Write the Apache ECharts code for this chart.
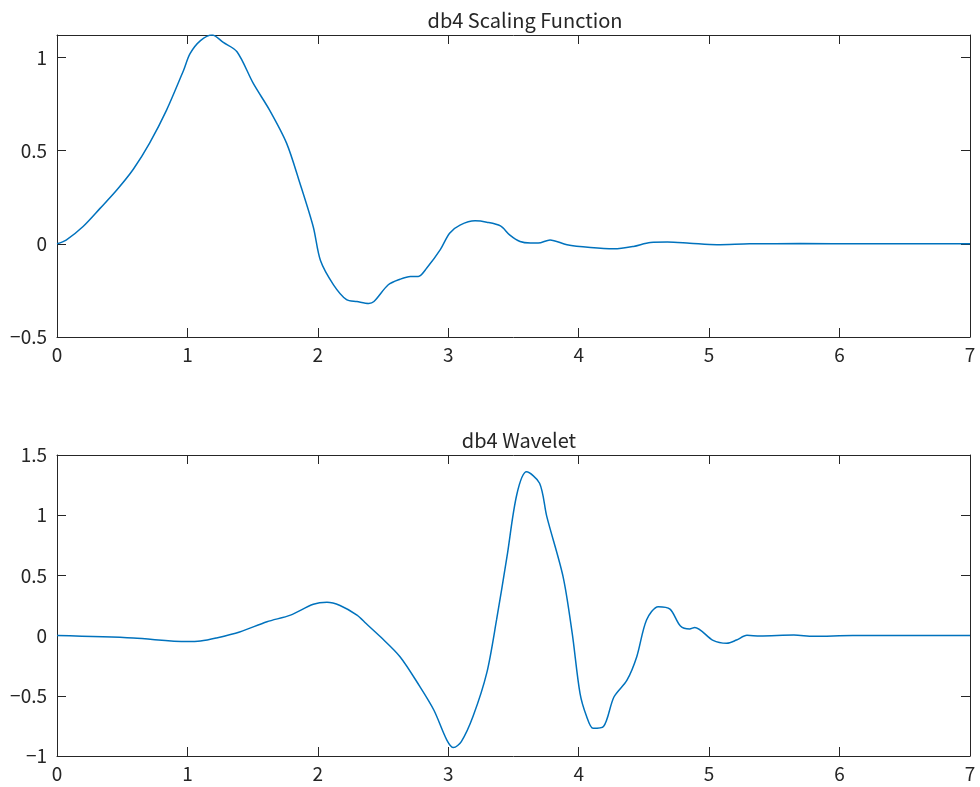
<!DOCTYPE html>
<html>
<head>
<meta charset="utf-8">
<script src="https://cdn.jsdelivr.net/npm/echarts@6/dist/echarts.min.js"></script>
<style>html,body{margin:0;padding:0;background:#fff;}#c{width:980px;height:787px;}</style>
</head>
<body>
<div id="c"></div>
<script>
// Scaling function (phi) samples
const phiX = [0,0.07,0.2,0.33,0.46,0.585,0.71,0.84,0.97,1.02,1.10,1.19,1.275,1.38,1.505,1.63,1.76,1.86,1.965,2.02,2.12,2.22,2.30,2.39,2.43,2.54,2.63,2.71,2.77,2.835,2.94,3.01,3.09,3.205,3.295,3.40,3.47,3.55,3.63,3.69,3.78,3.91,4.09,4.27,4.42,4.55,4.68,4.85,5.06,5.31,5.7,6.2,7];
const phiY = [0,0.02,0.093,0.19,0.29,0.40,0.54,0.717,0.93,1.02,1.09,1.12,1.08,1.03,0.86,0.717,0.54,0.33,0.09,-0.09,-0.22,-0.30,-0.31,-0.32,-0.31,-0.22,-0.19,-0.175,-0.175,-0.13,-0.03,0.057,0.10,0.123,0.116,0.096,0.048,0.012,0.004,0.004,0.021,-0.005,-0.02,-0.027,-0.014,0.007,0.009,0.003,-0.005,0,0.001,0,0];
// Wavelet (psi) samples
const psiX = [0,0.585,0.995,1.10,1.22,1.40,1.61,1.79,1.965,2.07,2.17,2.30,2.37,2.48,2.63,2.78,2.89,2.99,3.04,3.10,3.19,3.295,3.37,3.45,3.525,3.60,3.70,3.755,3.88,3.95,4.01,4.06,4.11,4.19,4.27,4.37,4.445,4.52,4.61,4.70,4.78,4.85,4.89,5.03,5.135,5.21,5.29,5.39,5.65,5.80,6.1,7];
const psiY = [0,-0.02,-0.05,-0.045,-0.02,0.03,0.115,0.17,0.26,0.277,0.25,0.17,0.1,-0.01,-0.175,-0.42,-0.62,-0.87,-0.93,-0.88,-0.67,-0.31,0.13,0.655,1.17,1.36,1.265,0.99,0.49,0.02,-0.48,-0.67,-0.77,-0.755,-0.51,-0.37,-0.175,0.13,0.24,0.22,0.08,0.055,0.068,-0.04,-0.064,-0.037,0.002,-0.003,0.005,-0.006,0,0];
const titles = ['db4 Scaling Function', 'db4 Wavelet'];
const xTicks = [0,1,2,3,4,5,6,7];

const FONT = 'Noto Sans CJK JP';
const TXT = '#262626';
const AX = '#262626';

function fmt(step) {
  return function (v) {
    const r = Math.round(v / step) * step;
    if (Math.abs(r - v) > 1e-6) return '';
    let s = String(Math.round(v * 100) / 100);
    return s.replace('-', '\u2212');
  };
}

function xAxisDef(grid, show) {
  return {
    type: 'value', gridIndex: grid, min: 0, max: 7, interval: 1,
    position: show ? 'bottom' : 'top',
    axisLine: { show: true, onZero: false, lineStyle: { color: AX, width: 1 } },
    axisTick: { show: true, inside: true, length: 9, lineStyle: { color: AX } },
    axisLabel: { show: show, color: TXT, fontFamily: FONT, fontSize: 19, margin: 8, formatter: fmt(1) },
    splitLine: { show: false }
  };
}
function yAxisDef(grid, min, max, show) {
  return {
    type: 'value', gridIndex: grid, min: min, max: max, interval: 0.5,
    position: show ? 'left' : 'right',
    axisLine: { show: true, onZero: false, lineStyle: { color: AX, width: 1 } },
    axisTick: { show: true, inside: true, length: 9, lineStyle: { color: AX } },
    axisLabel: { show: show, color: TXT, fontFamily: FONT, fontSize: 19, margin: 10, formatter: fmt(0.5) },
    splitLine: { show: false }
  };
}

const chart = echarts.init(document.getElementById('c'), null, { renderer: 'canvas' });
chart.setOption({
  backgroundColor: '#fff',
  animation: false,
  title: [
    { text: titles[0], left: 520, top: 5, textAlign: 'center', textStyle: { fontFamily: FONT, fontSize: 20, fontWeight: 'normal', color: TXT } },
    { text: titles[1], left: 514, top: 425, textAlign: 'center', textStyle: { fontFamily: FONT, fontSize: 20, fontWeight: 'normal', color: TXT } }
  ],
  grid: [
    { left: 57, right: 10, top: 35, height: 302 },
    { left: 57, right: 10, top: 455, height: 301 }
  ],
  xAxis: [xAxisDef(0, true), xAxisDef(0, false), xAxisDef(1, true), xAxisDef(1, false)],
  yAxis: [yAxisDef(0, -0.5, 1.12, true), yAxisDef(0, -0.5, 1.12, false), yAxisDef(1, -1, 1.5, true), yAxisDef(1, -1, 1.5, false)],
  series: [
    { type: 'line', xAxisIndex: 0, yAxisIndex: 0, data: phiX.map((x, i) => [x, phiY[i]]), showSymbol: false, smooth: 0.3, lineStyle: { color: '#0072BD', width: 1.5 } },
    { type: 'line', xAxisIndex: 2, yAxisIndex: 2, data: psiX.map((x, i) => [x, psiY[i]]), showSymbol: false, smooth: 0.3, lineStyle: { color: '#0072BD', width: 1.5 } }
  ]
});
</script>
</body>
</html>
